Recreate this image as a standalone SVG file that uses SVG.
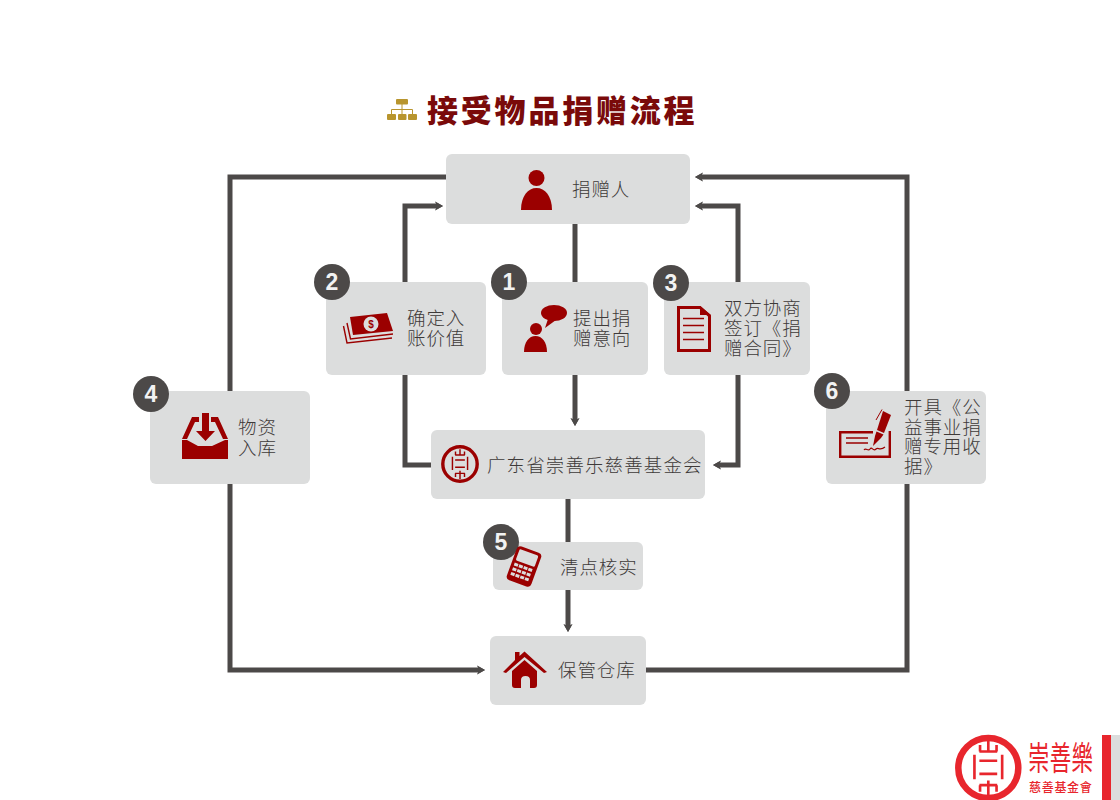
<svg xmlns="http://www.w3.org/2000/svg" width="1120" height="800" viewBox="0 0 1120 800">
<style>
.box{fill:#dcdddd}
.badge{fill:#4c4948}
.num{font:bold 23px "Liberation Sans",Arial,sans-serif;fill:#f2f2f2;text-anchor:middle}
.lbl{font-family:"Noto Sans CJK SC",sans-serif;font-size:18.500px;font-weight:300;letter-spacing:.9px;fill:#3e3a39}
.ic{fill:#9b0000}
.icl{fill:none;stroke:#9b0000}
.conn{fill:none;stroke:#4c4948;stroke-width:5}
.seal{fill:none}
</style>
<defs>
<marker id="arr" markerUnits="userSpaceOnUse" viewBox="-5 -6 12 12" markerWidth="12" markerHeight="12" refX="0" refY="0" orient="auto"><path d="M-3,-4.500L-1,-2.500V2.500L-3,4.500L5,0Z" fill="#4c4948"/><path d="M-3,-4.500L5,0L-3,4.500L-1,0Z" fill="#4c4948"/></marker>
<g id="sealGlyph" class="seal">
<path d="M-27,-50H27M-25,-70V-50M0,-82V-50M25,-70V-50M-27,52H27M-25,52V72M0,38V84M25,52V72" stroke-width="8"/>
<path d="M-42,-40V34M42,-40V34M-27,-22H27M-27,18H27" stroke-width="8"/>
</g>
</defs>
<rect width="1120" height="800" fill="#fff"/>

<g id="title">
<g fill="#b8952e">
<rect x="396" y="99" width="12" height="5.500" rx="1"/>
<rect x="387" y="114" width="9" height="6" rx="1"/>
<rect x="398" y="114" width="8.500" height="6" rx="1"/>
<rect x="408" y="114" width="9" height="6" rx="1"/>
</g>
<path d="M402,104V109M391.500,114V109.500H412.500V114M402,109V114" fill="none" stroke="#b8952e" stroke-width="1"/>
<text x="427" y="122" font-family="'Noto Sans CJK SC',sans-serif" font-size="31" font-weight="900" letter-spacing="2.800" fill="#7a0a0a">接受物品捐赠流程</text>
</g>

<g id="connectors">
<path class="conn" d="M446,177H230V670H480" marker-end="url(#arr)"/>
<path class="conn" d="M646,670H907V177H700" marker-end="url(#arr)"/>
<path class="conn" d="M431,465H405V206H438" marker-end="url(#arr)"/>
<path class="conn" d="M738,282V206H700" marker-end="url(#arr)"/>
<path class="conn" d="M738,375V465H718" marker-end="url(#arr)"/>
<path class="conn" d="M575,224V282"/>
<path class="conn" d="M575,375V421" marker-end="url(#arr)"/>
<path class="conn" d="M568,499V542"/>
<path class="conn" d="M568,590V627" marker-end="url(#arr)"/>
</g>

<g id="node-donor">
<rect class="box" x="446" y="154" width="244" height="70" rx="6"/>
<circle class="ic" cx="536.500" cy="178" r="8"/>
<path class="ic" d="M521,210C521,196 528,188 536.500,188C545,188 552,196 552,210Z"/>
<text class="lbl" x="572" y="196">捐赠人</text>
</g>

<g id="node-value">
<rect class="box" x="326" y="282" width="160" height="93" rx="6"/>
<path class="ic" d="M350,317L387,313L393,331L353,335Z"/>
<circle cx="371" cy="324" r="7.500" fill="#dcdddd"/>
<text x="371" y="328" font-family="'Liberation Sans',sans-serif" font-size="10" font-weight="bold" fill="#9b0000" text-anchor="middle">$</text>
<path class="icl" stroke-width="1.400" d="M343.500,326L347,343L392,338M347,323L350.500,339L393,334"/>
<circle class="badge" cx="332" cy="282" r="18"/>
<text class="num" x="332" y="290">2</text>
<text class="lbl" x="407" y="325">确定入</text>
<text class="lbl" x="407" y="345">账价值</text>
</g>

<g id="node-intent">
<rect class="box" x="502" y="282" width="146" height="93" rx="6"/>
<circle class="ic" cx="536" cy="329" r="6"/>
<path class="ic" d="M524,352C524,342 529,336 535.500,336C542,336 547,342 547,352Z"/>
<ellipse class="ic" cx="554" cy="313" rx="13" ry="8"/>
<path class="ic" d="M548,319L545,328L556,320Z"/>
<circle class="badge" cx="509" cy="282" r="18"/>
<text class="num" x="509" y="290">1</text>
<text class="lbl" x="573" y="325">提出捐</text>
<text class="lbl" x="573" y="345">赠意向</text>
</g>

<g id="node-contract">
<rect class="box" x="664" y="282" width="146" height="93" rx="6"/>
<path class="icl" stroke-width="3" d="M678.500,307.500H700L709.500,316V350.500H678.500Z"/>
<path class="ic" d="M700,306L711,315H700Z"/>
<path class="icl" stroke-width="1.600" d="M683,318.500H704M683,325.500H704M683,332.500H704M683,339.500H704"/>
<circle class="badge" cx="671" cy="283" r="18"/>
<text class="num" x="671" y="291">3</text>
<text class="lbl" x="724" y="315">双方协商</text>
<text class="lbl" x="724" y="335">签订《捐</text>
<text class="lbl" x="724" y="355">赠合同》</text>
</g>

<g id="node-storage-in">
<rect class="box" x="150" y="391" width="160" height="93" rx="6"/>
<path class="ic" d="M182,439L192,417H199V422H195L187,439Z"/>
<path class="ic" d="M228,439L218,417H211V422H215L223,439Z"/>
<path class="ic" d="M182,440H187L198,446H212L225,440H228V459H182Z"/>
<path class="ic" d="M202,413H209V431H215L205.500,441L196,431H202Z"/>
<circle class="badge" cx="151" cy="394" r="18"/>
<text class="num" x="151" y="402">4</text>
<text class="lbl" x="238" y="434">物资</text>
<text class="lbl" x="238" y="455">入库</text>
</g>

<g id="node-receipt">
<rect class="box" x="826" y="391" width="160" height="93" rx="6"/>
<path class="icl" stroke-width="2.400" d="M873,432.200H840.200V456.800H889.800V431"/>
<path class="icl" stroke-width="1.600" d="M846,438H868M846,443H868"/>
<path class="ic" d="M883,411L891,415L884,433L877,430Z"/>
<path class="ic" d="M876.500,431.500L883.500,434.500L881,438L873,446L875,436Z"/>
<path class="icl" stroke-width="1" d="M876,420L882,409.500"/>
<path class="icl" stroke-width="1.200" d="M864,450C866,447 868,452 870,449C872,446 873,452 876,449C878,447 880,451 885,447"/>
<circle class="badge" cx="832" cy="391" r="18"/>
<text class="num" x="832" y="399">6</text>
<text class="lbl" x="904" y="414">开具《公</text>
<text class="lbl" x="904" y="434">益事业捐</text>
<text class="lbl" x="904" y="453">赠专用收</text>
<text class="lbl" x="904" y="473">据》</text>
</g>

<g id="node-foundation">
<rect class="box" x="431" y="430" width="274" height="69" rx="6"/>
<circle cx="460" cy="464" r="17.200" fill="none" stroke="#9b0000" stroke-width="3.400"/>
<use href="#sealGlyph" transform="translate(460,464) scale(.18)" stroke="#9b0000"/>
<text class="lbl" x="487" y="472" style="letter-spacing:1.100px">广东省崇善乐慈善基金会</text>
</g>

<g id="node-check">
<rect class="box" x="493" y="542" width="150" height="48" rx="6"/>
<circle class="badge" cx="501" cy="542" r="18"/>
<text class="num" x="501" y="550">5</text>
<g transform="translate(524,566.500) rotate(20)">
<rect class="ic" x="-13" y="-18" width="26" height="36" rx="4"/>
<rect x="-10" y="-15" width="20" height="12" rx="1.500" fill="#dcdddd"/>
<g fill="#dcdddd">
<rect x="-10" y="-.5" width="4" height="3"/><rect x="-5" y="-.5" width="4" height="3"/><rect x="0" y="-.5" width="4" height="3"/><rect x="5" y="-.5" width="4" height="3"/>
<rect x="-10" y="4.500" width="4" height="3"/><rect x="-5" y="4.500" width="4" height="3"/><rect x="0" y="4.500" width="4" height="3"/><rect x="5" y="4.500" width="4" height="3"/>
<rect x="-10" y="9.500" width="4" height="3"/><rect x="-5" y="9.500" width="4" height="3"/><rect x="0" y="9.500" width="4" height="3"/><rect x="5" y="9.500" width="4" height="3"/>
</g>
</g>
<text class="lbl" x="560" y="574">清点核实</text>
</g>

<g id="node-warehouse">
<rect class="box" x="490" y="636" width="156" height="69" rx="6"/>
<path class="ic" d="M503,672L515,660V652H519.500V656L524.500,651.500L547,672L544,673L524.500,657L506,673Z"/>
<path class="ic" d="M524.500,660L537,671V685Q537,688 534,688H530V680Q530,676 525.500,676Q521,676 521,680V688H515Q512,688 512,685V671Z"/>
<text class="lbl" x="558" y="677">保管仓库</text>
</g>

<g id="logo">
<rect x="1102" y="735" width="9" height="65" fill="#e8262d"/>
<rect x="1111" y="735" width="9" height="65" fill="#dcdddd"/>
<circle cx="988.300" cy="768" r="30" fill="none" stroke="#e8262d" stroke-width="6.500"/>
<use href="#sealGlyph" transform="translate(988.300,768) scale(.33)" stroke="#e8262d"/>
<text transform="translate(1028,770) scale(1,1.550)" font-family="'Noto Sans CJK TC',sans-serif" font-size="21.500" font-weight="400" fill="#e8262d" textLength="65">崇善樂</text>
<text x="1029" y="792" font-family="'Noto Sans CJK TC',sans-serif" font-size="12" font-weight="500" letter-spacing=".7" fill="#e8262d">慈善基金會</text>
</g>
</svg>
